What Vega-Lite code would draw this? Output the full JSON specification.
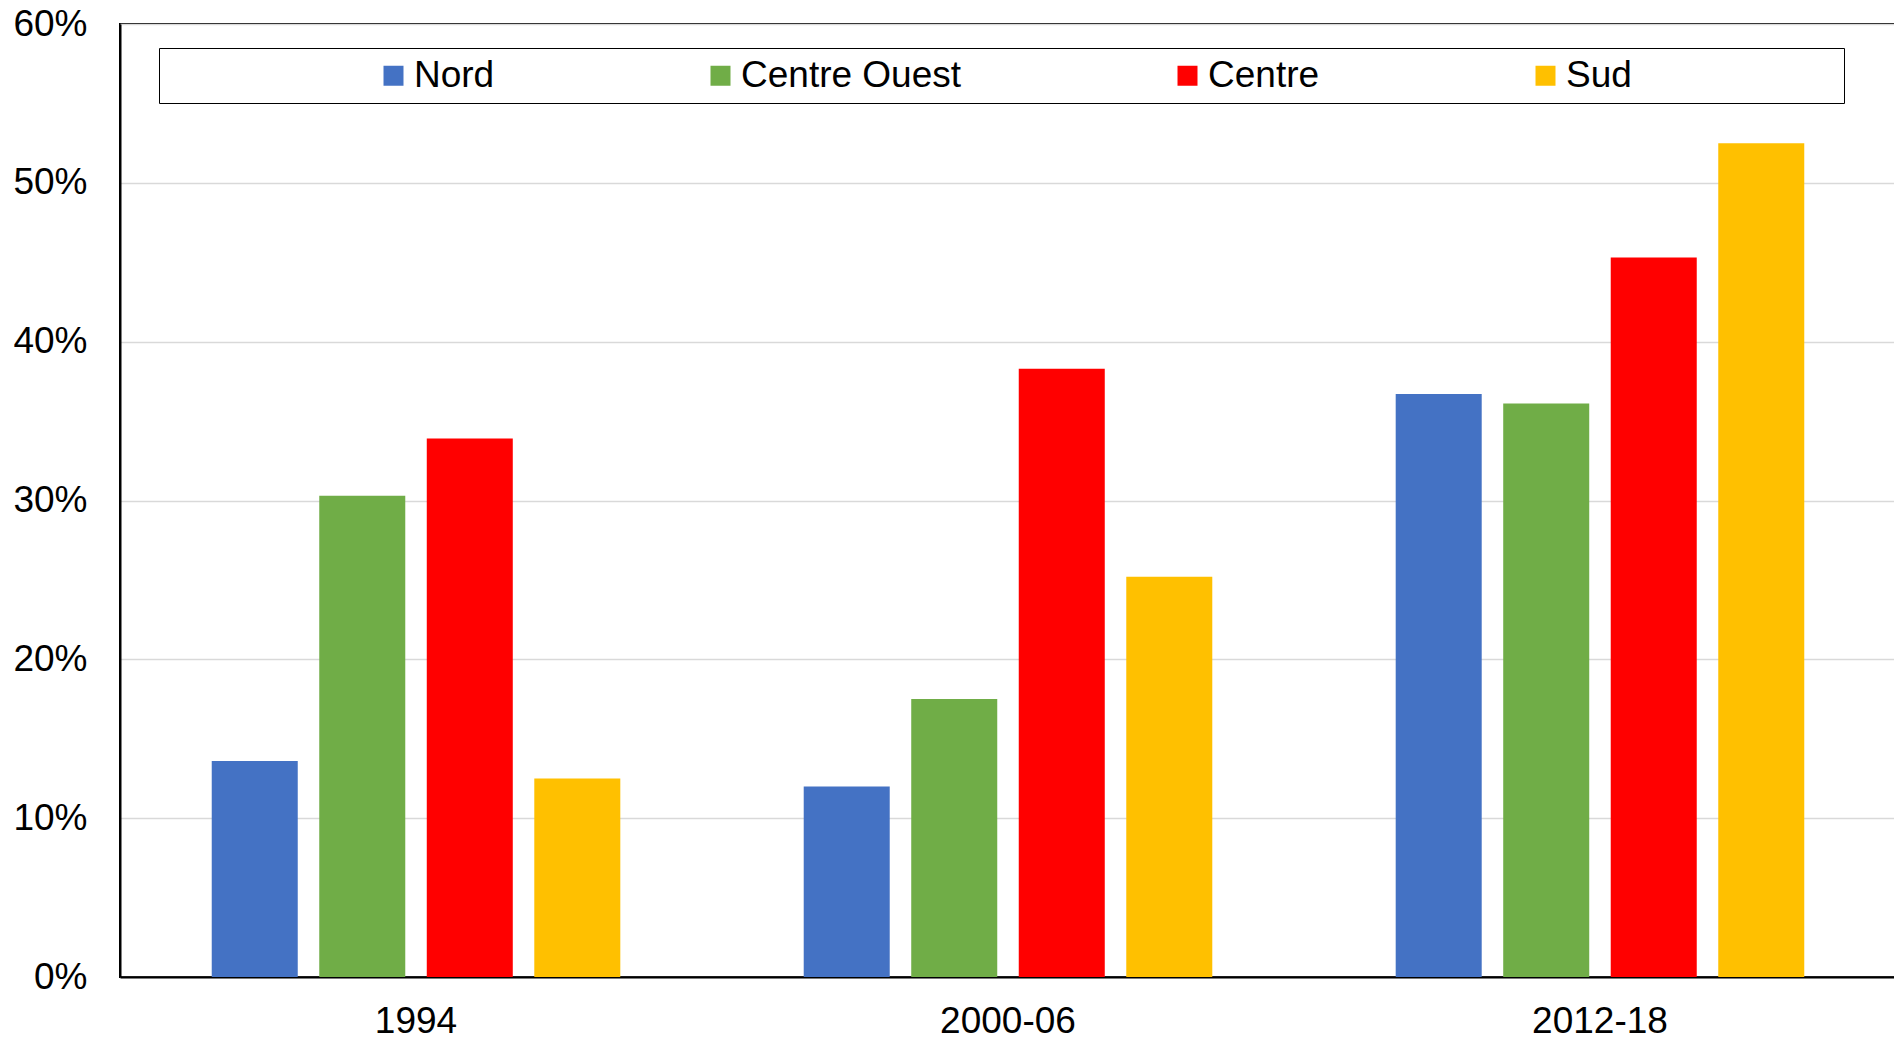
{
  "$schema": "https://vega.github.io/schema/vega-lite/v6.json",
  "width": 1776,
  "height": 953,
  "autosize": "none",
  "padding": {"left": 120, "top": 24, "right": 0, "bottom": 64},
  "background": "white",
  "config": {
    "font": "Liberation Sans",
    "view": {"stroke": "black", "strokeWidth": 2},
    "axis": {"labelFont": "Liberation Sans", "labelColor": "black"}
  },
  "data": {
    "values": [
      {"periode": "1994", "region": "Nord", "part": 0.136},
      {"periode": "1994", "region": "Centre Ouest", "part": 0.303},
      {"periode": "1994", "region": "Centre", "part": 0.339},
      {"periode": "1994", "region": "Sud", "part": 0.125},
      {"periode": "2000-06", "region": "Nord", "part": 0.120},
      {"periode": "2000-06", "region": "Centre Ouest", "part": 0.175},
      {"periode": "2000-06", "region": "Centre", "part": 0.383},
      {"periode": "2000-06", "region": "Sud", "part": 0.252},
      {"periode": "2012-18", "region": "Nord", "part": 0.367},
      {"periode": "2012-18", "region": "Centre Ouest", "part": 0.361},
      {"periode": "2012-18", "region": "Centre", "part": 0.453},
      {"periode": "2012-18", "region": "Sud", "part": 0.525}
    ]
  },
  "mark": {"type": "bar"},
  "encoding": {
    "x": {
      "field": "periode",
      "type": "nominal",
      "sort": null,
      "scale": {"paddingInner": 0.2735, "paddingOuter": 0.1368},
      "axis": {
        "title": null,
        "labelAngle": 0,
        "ticks": false,
        "labelFontSize": 37,
        "labelPadding": 26,
        "domainColor": "black",
        "domainWidth": 2
      }
    },
    "xOffset": {
      "field": "region",
      "type": "nominal",
      "sort": ["Nord", "Centre Ouest", "Centre", "Sud"],
      "scale": {"paddingInner": 0.2, "paddingOuter": 0.1}
    },
    "y": {
      "field": "part",
      "type": "quantitative",
      "scale": {"domain": [0, 0.6], "nice": false},
      "axis": {
        "title": null,
        "format": ".0%",
        "values": [0, 0.1, 0.2, 0.3, 0.4, 0.5, 0.6],
        "ticks": false,
        "labelFontSize": 37,
        "labelPadding": 33,
        "domainColor": "black",
        "domainWidth": 2,
        "gridColor": "#d9d9d9",
        "gridWidth": 1.5
      }
    },
    "color": {
      "field": "region",
      "type": "nominal",
      "sort": ["Nord", "Centre Ouest", "Centre", "Sud"],
      "scale": {
        "domain": ["Nord", "Centre Ouest", "Centre", "Sud"],
        "range": ["#4472C4", "#70AD47", "#FF0000", "#FFC000"]
      },
      "legend": {
        "orient": "none",
        "legendX": 39,
        "legendY": 24,
        "direction": "horizontal",
        "columns": 4,
        "gridAlign": "each",
        "columnPadding": -4,
        "title": " ",
        "titleOrient": "right",
        "titleFontSize": 1,
        "titlePadding": 203,
        "padding": 9,
        "strokeColor": "black",
        "fillColor": "white",
        "symbolType": "M-1,-1H1V1H-1Z",
        "symbolSize": 400,
        "symbolStrokeWidth": 0,
        "symbolOpacity": 1,
        "symbolOffset": 207,
        "labelFontSize": 37,
        "labelFont": "Liberation Sans",
        "labelColor": "black",
        "labelOffset": 2,
        "labelLimit": 500,
        "encode": {
          "legend": {"strokeWidth": {"value": 2}}
        }
      }
    }
  }
}
